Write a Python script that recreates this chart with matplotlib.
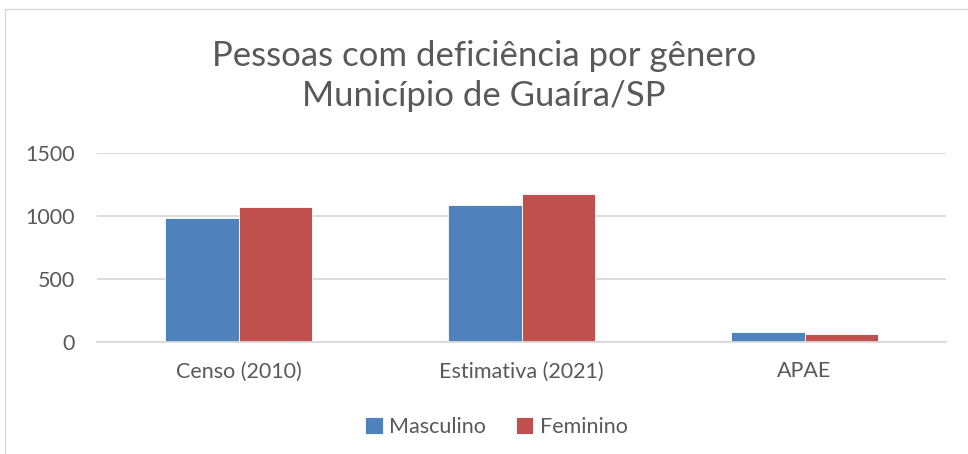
import matplotlib
matplotlib.use("Agg")
import matplotlib.pyplot as plt
import numpy as np
from matplotlib.patches import Rectangle

categories = ["Censo (2010)", "Estimativa (2021)", "APAE"]
masculino = [984, 1088, 80]
feminino = [1069, 1178, 61]
yticks = [0, 500, 1000, 1500]

blue = "#4f81bd"
red = "#c0504d"
grey = "#595959"

plt.rcParams['font.family'] = ['Lato', 'DejaVu Sans']

fig = plt.figure(figsize=(9.68, 4.54), dpi=100)
ax = fig.add_axes([97/968, 1 - 342/454, (946-97)/968, (342-153)/454])

x = np.arange(len(categories))
w = 0.26
ax.bar(x - w/2, masculino, w, color=blue, label="Masculino", edgecolor="white", linewidth=0.6)
ax.bar(x + w/2, feminino, w, color=red, label="Feminino", edgecolor="white", linewidth=0.6)

ax.set_xlim(-0.5, 2.5)
ax.set_ylim(0, 1500)
ax.set_yticks(yticks)
ax.set_xticks(x)
ax.set_xticklabels(categories)
ax.yaxis.grid(True, color="#d9d9d9", linewidth=1.3)
ax.set_axisbelow(True)
for s in ["top", "right", "left"]:
    ax.spines[s].set_visible(False)
ax.spines["bottom"].set_color("#d9d9d9")
ax.spines["bottom"].set_linewidth(1.3)
ax.tick_params(axis="both", length=0, labelsize=15.5, colors=grey)
ax.tick_params(axis="x", pad=14)
ax.tick_params(axis="y", pad=16)

fig.text(0.5, 1 - 76/454, "Pessoas com deficiência por gênero\nMunicípio de Guaíra/SP",
         ha="center", va="center", fontsize=25, color=grey, linespacing=1.3)

fig.legend(loc="center", bbox_to_anchor=(0.513, 1 - 427/454), ncol=2, frameon=False,
           fontsize=15.5, labelcolor=grey, handlelength=0.8, handleheight=0.8,
           handletextpad=0.3, columnspacing=1.4)

fig.patches.append(Rectangle((5/968, -0.1), 1.1, 1 - 9/454 + 0.1, transform=fig.transFigure,
                             fill=False, edgecolor="#d9d9d9", linewidth=1))

fig.savefig("out.png", dpi=100)
